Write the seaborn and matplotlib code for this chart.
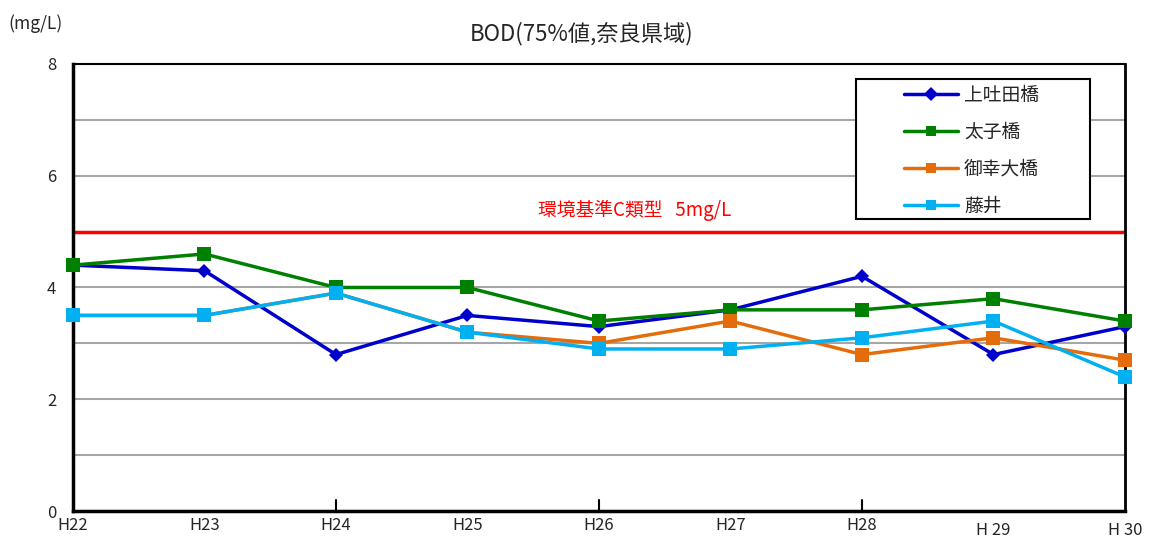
import matplotlib
matplotlib.use("Agg")
import matplotlib.pyplot as plt
from matplotlib.ticker import MultipleLocator
from matplotlib.patches import Rectangle
import seaborn as sns
import pandas as pd

years = ["H22", "H23", "H24", "H25", "H26", "H27", "H28", "H 29", "H 30"]
kamihata = [4.4, 4.3, 2.8, 3.5, 3.3, 3.6, 4.2, 2.8, 3.3]
taishi = [4.4, 4.6, 4.0, 4.0, 3.4, 3.6, 3.6, 3.8, 3.4]
miyuki = [3.5, 3.5, 3.9, 3.2, 3.0, 3.4, 2.8, 3.1, 2.7]
fujii = [3.5, 3.5, 3.9, 3.2, 2.9, 2.9, 3.1, 3.4, 2.4]
series_names = ["上吐田橋", "太子橋", "御幸大橋", "藤井"]
standard_value = 5
standard_label = "環境基準C類型   5mg/L"

sns.set_theme(style="white")
plt.rcParams["font.family"] = ["Noto Sans CJK JP", "DejaVu Sans"]

rows = []
for name, vals in zip(series_names, [kamihata, taishi, miyuki, fujii]):
    for i, v in enumerate(vals):
        rows.append({"year": i, "value": v, "site": name})
df = pd.DataFrame(rows)

colors = ["#0000CC", "#008000", "#E46C0A", "#00B0F0"]
markers = ["D", "s", "s", "s"]
msizes = [7, 10, 10, 10]

fig = plt.figure(figsize=(11.51, 5.40), dpi=100)
ax = fig.add_axes([0.0634, 0.0537, 0.914, 0.8278])

for name, c, m, ms in zip(series_names, colors, markers, msizes):
    sns.lineplot(data=df[df["site"] == name], x="year", y="value", ax=ax,
                 color=c, marker=m, markersize=ms, markeredgewidth=0,
                 linewidth=2.5, label=name, clip_on=False, zorder=3)

ax.axhline(standard_value, color="#FF0000", linewidth=2.5, zorder=2)
ax.text(4.27, standard_value + 0.38, standard_label, color="#FF0000",
        fontsize=13.5, ha="center", va="center")

ax.set_xlim(0, len(years) - 1)
ax.set_ylim(0, 8)
ax.yaxis.set_major_locator(MultipleLocator(2))
ax.yaxis.set_minor_locator(MultipleLocator(1))
ax.grid(True, which="both", axis="y", color="#A6A6A6", linewidth=1.5, zorder=1)
ax.set_axisbelow(True)

ax.set_xticks(range(len(years)))
ax.set_xticklabels(years)
for i, lab in enumerate(ax.get_xticklabels()):
    lab.set_fontsize(12)
    if years[i].startswith("H "):
        lab.set_y(-0.012)
ax.tick_params(axis="x", which="major", direction="in", length=0, pad=4)
ax.tick_params(axis="y", which="both", direction="in", length=6, width=1.5,
               labelsize=12, pad=12)
for x in [2, 4, 6]:
    ax.plot([x, x], [0, 0.2], color="black", linewidth=1.5, zorder=2)

for side, sp in ax.spines.items():
    sp.set_visible(True)
    sp.set_color("black")
    sp.set_linewidth(1.5)
ax.spines["left"].set_linewidth(2.5)
ax.spines["bottom"].set_linewidth(2.5)
ax.spines["right"].set_linewidth(2)

ax.set_xlabel("")
ax.set_ylabel("")

fig.text(0.505, 0.937, "BOD(75%値,奈良県域)", ha="center", va="center", fontsize=16)
fig.text(0.007, 0.957, "(mg/L)", ha="left", va="center", fontsize=12.5)

# legend box drawn separately so the entries sit centred inside a wider frame
ax.add_patch(Rectangle((0.7443, 0.6532), 0.2224, 0.3132, transform=ax.transAxes,
                       facecolor="white", edgecolor="black", linewidth=1.5,
                       zorder=4, clip_on=False))
leg = ax.legend(loc="center left", bbox_to_anchor=(0.781, 0.806), frameon=False,
                fontsize=13.5, borderpad=0, labelspacing=0.85, handlelength=2.9,
                handletextpad=0.3)
leg.set_zorder(5)
for h in leg.legend_handles:
    h.set_markersize(7)

fig.savefig("out.png", dpi=100)
